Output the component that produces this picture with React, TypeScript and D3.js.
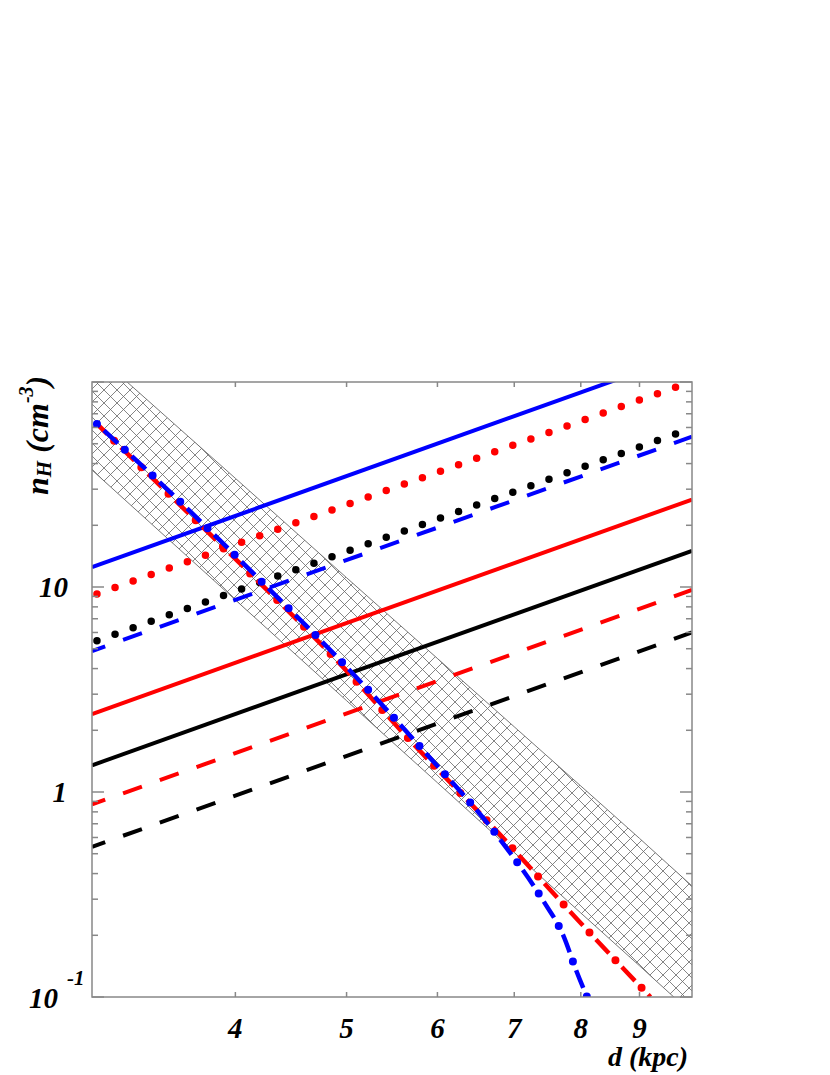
import React from 'react';
import * as d3 from 'd3';

const W = 830;
const H = 1075;
const plot = { left: 92, right: 692, top: 382, bottom: 997 };

// axes ranges: distance d (kpc), density nH (cm^-3)
const dDomain = [3, 10];
const nDomain = [0.1, 100];
const xTickValues = [4, 5, 6, 7, 8, 9];

// hatched band
const bandD = [3, 4, 5, 6, 7, 8, 9, 10];
const bandUpper = [142, 33.9, 11.1, 4.48, 2.08, 1.07, 0.594, 0.348];
const bandLower = [37.2, 8.65, 2.79, 1.11, 0.507, 0.257, 0.142, 0.083];

// rising lines, [d, nH] end points
const blueSolid = [[3, 12.5], [10, 139]];
const redDotted = [[3.03, 9.25], [9.73, 95.4]];
const blackDotted = [[3.03, 5.47], [9.73, 56.4]];
const blueDashed = [[3, 4.87], [10, 54.1]];
const redSolid = [[3, 2.4], [10, 26.7]];
const blackSolid = [[3, 1.35], [10, 15.0]];
const redDashed = [[3, 0.87], [10, 9.67]];
const blackDashed = [[3, 0.54], [10, 6.0]];

// falling curves
const redCurveD = [3.03, 3.52, 4.15, 4.89, 5.72, 6.72, 7.85, 8.72, 9.2];
const redCurveN = [62.4, 27.5, 11.2, 4.45, 1.71, 0.667, 0.257, 0.137, 0.1];
const blueCurveD = [3.03, 3.59, 4.24, 4.99, 5.83, 6.79, 7.43, 7.72, 7.93, 8.1];
const blueCurveN = [62.4, 25.7, 10.3, 4.12, 1.6, 0.596, 0.291, 0.201, 0.134, 0.1];

const FONT = "'Liberation Serif', 'Times New Roman', Times, serif";

export default function App() {
  const x = d3.scaleLog().domain(dDomain).range([plot.left, plot.right]);
  const y = d3.scaleLog().domain(nDomain).range([plot.bottom, plot.top]);

  const line = d3.line<number[]>().x(d => x(d[0])).y(d => y(d[1]));
  const smooth = d3.line<number[]>().x(d => x(d[0])).y(d => y(d[1])).curve(d3.curveMonotoneX);

  const band = d3.area<number>()
    .x(d => x(d))
    .y0((d, i) => y(bandLower[i]))
    .y1((d, i) => y(bandUpper[i]));
  const upperEdge = bandD.map((d, i) => [d, bandUpper[i]]);
  const lowerEdge = bandD.map((d, i) => [d, bandLower[i]]);

  const redCurve = redCurveD.map((d, i) => [d, redCurveN[i]]);
  const blueCurve = blueCurveD.map((d, i) => [d, blueCurveN[i]]);

  const straight = [
    { pts: blueSolid, color: '#0000ff', kind: 'solid' },
    { pts: redSolid, color: '#ff0000', kind: 'solid' },
    { pts: blackSolid, color: '#000000', kind: 'solid' },
    { pts: redDashed, color: '#ff0000', kind: 'dashed' },
    { pts: blackDashed, color: '#000000', kind: 'dashed' },
    { pts: blueDashed, color: '#0000ff', kind: 'dashed' },
    { pts: redDotted, color: '#ff0000', kind: 'dotted' },
    { pts: blackDotted, color: '#000000', kind: 'dotted' },
  ];

  const yTicks = y.ticks();
  const isMajor = (v: number) => Math.abs(Math.log10(v) - Math.round(Math.log10(v))) < 1e-6;

  const axisColor = '#888888';
  const hs = 13; // hatch cell

  return (
    <svg width={W} height={H} style={{ position: 'absolute', left: 0, top: 0, background: '#fff' }}
      fontFamily={FONT} fontWeight="bold" fontStyle="italic">
      <defs>
        <clipPath id="plotClip">
          <rect x={plot.left} y={plot.top} width={plot.right - plot.left} height={plot.bottom - plot.top} />
        </clipPath>
        <pattern id="hatch" width={hs} height={hs} patternUnits="userSpaceOnUse">
          <path d={`M0,0 L${hs},${hs} M${hs},0 L0,${hs} M-1,${hs - 1} L1,${hs + 1} M${hs - 1},-1 L${hs + 1},1 M-1,1 L1,-1 M${hs - 1},${hs + 1} L${hs + 1},${hs - 1}`}
            stroke="#666" strokeWidth={0.8} />
        </pattern>
      </defs>

      <g clipPath="url(#plotClip)">
        <path d={band(bandD) || ''} fill="url(#hatch)" />
        <path d={smooth(upperEdge) || ''} fill="none" stroke="#666" strokeWidth={0.9} />
        <path d={smooth(lowerEdge) || ''} fill="none" stroke="#666" strokeWidth={0.9} />

        {straight.map((s, i) => {
          if (s.kind === 'solid') {
            return <path key={i} d={line(s.pts) || ''} fill="none" stroke={s.color} strokeWidth={4} />;
          }
          if (s.kind === 'dashed') {
            return <path key={i} d={line(s.pts) || ''} fill="none" stroke={s.color} strokeWidth={4}
              strokeDasharray="20 19" strokeDashoffset={6} />;
          }
          return <path key={i} d={line(s.pts) || ''} fill="none" stroke={s.color} strokeWidth={7.5}
            strokeLinecap="round" strokeDasharray="0 19.2" />;
        })}

        {/* red dash-dot curve */}
        <path d={smooth(redCurve) || ''} fill="none" stroke="#ff0000" strokeWidth={4.5}
          strokeDasharray="0 9.5 19 9.5" strokeDashoffset={14} />
        <path d={smooth(redCurve) || ''} fill="none" stroke="#ff0000" strokeWidth={8}
          strokeLinecap="round" strokeDasharray="0 38" strokeDashoffset={14} />
        {/* blue dash-dot curve */}
        <path d={smooth(blueCurve) || ''} fill="none" stroke="#0000ff" strokeWidth={4.5}
          strokeDasharray="0 9.5 19 9.5" />
        <path d={smooth(blueCurve) || ''} fill="none" stroke="#0000ff" strokeWidth={8}
          strokeLinecap="round" strokeDasharray="0 38" />
      </g>

      {/* frame and ticks */}
      <g stroke={axisColor} strokeWidth={1.5} fill="none">
        <rect x={plot.left} y={plot.top} width={plot.right - plot.left} height={plot.bottom - plot.top} />
        {yTicks.map((t, i) => {
          const len = isMajor(t) ? 12 : 6;
          return (
            <g key={i}>
              <line x1={plot.left} x2={plot.left + len} y1={y(t)} y2={y(t)} />
              <line x1={plot.right} x2={plot.right - len} y1={y(t)} y2={y(t)} />
            </g>
          );
        })}
        {xTickValues.map((t, i) => (
          <g key={i}>
            <line x1={x(t)} x2={x(t)} y1={plot.bottom} y2={plot.bottom - 5} />
            <line x1={x(t)} x2={x(t)} y1={plot.top} y2={plot.top + 5} />
          </g>
        ))}
      </g>

      {/* x tick labels */}
      {xTickValues.map((t, i) => (
        <text key={i} x={x(t)} y={1038} fontSize={29} textAnchor="middle" fill="#000">{t}</text>
      ))}
      <text x={688} y={1066} fontSize={28} textAnchor="end" fill="#000">d (kpc)</text>

      {/* y tick labels */}
      <text x={68} y={y(10) + 10} fontSize={29} textAnchor="end" fill="#000">10</text>
      <text x={67} y={y(1) + 10} fontSize={29} textAnchor="end" fill="#000">1</text>
      <text x={58} y={1008} fontSize={29} textAnchor="end" fill="#000">10</text>
      <text x={67} y={985} fontSize={21} textAnchor="start" fill="#000">-1</text>

      {/* y title */}
      <text transform="translate(48,495) rotate(-90)" fontSize={32} fill="#000">
        <tspan>n</tspan>
        <tspan fontSize={21} dy={3}>H</tspan>
        <tspan dy={-3}> (cm</tspan>
        <tspan fontSize={20} dy={-15}>-3</tspan>
        <tspan dy={15}>)</tspan>
      </text>
    </svg>
  );
}
